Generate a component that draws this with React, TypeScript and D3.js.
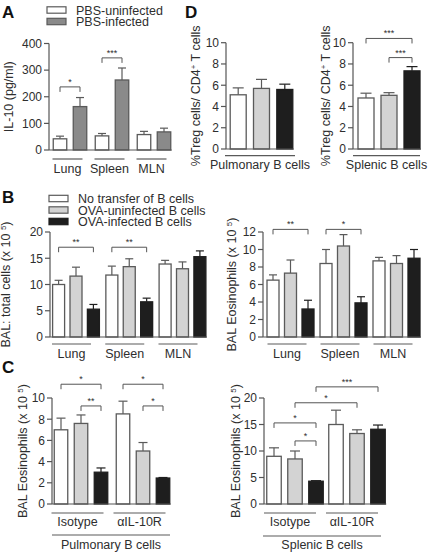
import React from "react";
import * as d3 from "d3";

// ---------------- DATA ----------------
// Panel A
const aGroups = ["Lung", "Spleen", "MLN"];
const aSeries = ["PBS-uninfected", "PBS-infected"];
const aMeans = [[42, 163], [53, 263], [58, 68]];
const aErrTop = [[52, 197], [62, 308], [70, 82]];
const aTicks = [0, 100, 200, 300, 400];
const aBrackets = [
  { g1: 0, s1: 0, g2: 0, s2: 1, v: 237, label: "*" },
  { g1: 1, s1: 0, g2: 1, s2: 1, v: 346, label: "***" },
];

// Panel B
const bGroups = ["Lung", "Spleen", "MLN"];
const bSeries = ["No transfer of B cells", "OVA-uninfected B cells", "OVA-infected B cells"];
const bTotalMeans = [[10.0, 11.6, 5.3], [11.8, 13.4, 6.7], [13.9, 13.0, 15.3]];
const bTotalErrTop = [[10.8, 13.3, 6.2], [13.5, 14.9, 7.4], [14.6, 14.3, 16.4]];
const bTotalTicks = [0, 5, 10, 15, 20];
const bTotalBrackets = [
  { g1: 0, s1: 0, g2: 0, s2: 2, v: 17.1, label: "**" },
  { g1: 1, s1: 0, g2: 1, s2: 2, v: 17.1, label: "**" },
];
const bEosMeans = [[6.5, 7.3, 3.2], [8.4, 10.4, 3.9], [8.7, 8.4, 9.0]];
const bEosErrTop = [[7.1, 8.8, 4.2], [10.0, 11.7, 4.6], [9.1, 9.3, 10.0]];
const bEosTicks = [0, 2, 4, 6, 8, 10, 12];
const bEosBrackets = [
  { g1: 0, s1: 0, g2: 0, s2: 2, v: 12.3, label: "**" },
  { g1: 1, s1: 0, g2: 1, s2: 2, v: 12.3, label: "*" },
];

// Panel C
const cGroups = ["Isotype", "\u03b1IL-10R"];
const cPulmMeans = [[7.0, 7.6, 3.0], [8.5, 5.0, 2.45]];
const cPulmErrTop = [[8.1, 8.4, 3.4], [9.7, 5.8, 2.5]];
const cPulmTicks = [0, 2, 4, 6, 8, 10];
const cPulmBrackets = [
  { g1: 0, s1: 0, g2: 0, s2: 2, v: 11.3, label: "*" },
  { g1: 0, s1: 1, g2: 0, s2: 2, v: 9.25, label: "**" },
  { g1: 1, s1: 0, g2: 1, s2: 2, v: 11.3, label: "*" },
  { g1: 1, s1: 1, g2: 1, s2: 2, v: 9.25, label: "*" },
];
const cSplMeans = [[9.0, 8.5, 4.3], [15.0, 13.3, 14.1]];
const cSplErrTop = [[10.6, 10.0, 4.4], [17.7, 14.0, 14.9]];
const cSplTicks = [0, 5, 10, 15, 20];
const cSplBrackets = [
  { g1: 0, s1: 2, g2: 1, s2: 2, v: 22.1, label: "***" },
  { g1: 0, s1: 1, g2: 1, s2: 1, v: 19.1, label: "*" },
  { g1: 0, s1: 0, g2: 0, s2: 2, v: 15.3, label: "*" },
  { g1: 0, s1: 1, g2: 0, s2: 2, v: 11.9, label: "*" },
];

// Panel D
const dPulmGroups = ["Pulmonary B cells"];
const dSplGroups = ["Splenic B cells"];
const dPulmMeans = [[5.1, 5.7, 5.6]];
const dPulmErrTop = [[5.75, 6.55, 6.1]];
const dSplMeans = [[4.8, 5.05, 7.35]];
const dSplErrTop = [[5.25, 5.3, 7.75]];
const dTicks = [0, 2, 4, 6, 8, 10];
const dSplBrackets = [
  { g1: 0, s1: 0, g2: 0, s2: 2, v: 10.4, label: "***" },
  { g1: 0, s1: 1, g2: 0, s2: 2, v: 8.6, label: "***" },
];

// ---------------- STYLE ----------------
const FONT = "'Liberation Sans', Arial, Helvetica, sans-serif";
const TEXT = "#2e2e2e";
const AXIS = "#555";
const OUTLINE = "#5a5a5a";
const WHITE = "#ffffff";
const MIDGRAY = "#8a8a8a";
const LIGHTGRAY = "#d3d3d3";
const BLACK = "#1e1e1e";
const threeFills = [WHITE, LIGHTGRAY, BLACK];
const twoFills = [WHITE, MIDGRAY];
const LABEL_FS = 12.5;

type Bracket = { g1: number; s1: number; g2: number; s2: number; v: number; label: string };

type PanelCfg = {
  axisX: number;
  y0: number;
  yTop: number;
  max: number;
  ticks: number[];
  groups: string[];
  means: number[][];
  errTop: number[][];
  fills: string[];
  centers: [number, number];
  step: number;
  bw: number;
  brackets: Bracket[];
  ulHalf: number;
  ulShift: number;
  ulY: number;
  labelY: number;
  capHalf: number;
  yLabel: React.ReactNode;
  yLabelX: number;
  outer?: { text: string; x1: number; x2: number; y: number; labelY: number };
};

function BarPanel({ cfg }: { cfg: PanelCfg }) {
  const y = d3.scaleLinear().domain([0, cfg.max]).range([cfg.y0, cfg.yTop]);
  const gx = d3.scalePoint<string>().domain(cfg.groups).range(cfg.centers);
  const n = cfg.means[0].length;
  const pad = 1 - cfg.bw / cfg.step;
  const inner = d3
    .scaleBand<number>()
    .domain(d3.range(n))
    .range([(-n * cfg.step) / 2, (n * cfg.step) / 2])
    .paddingInner(pad)
    .paddingOuter(pad / 2);
  const bw = inner.bandwidth();
  const barLeft = (gi: number, si: number) => (gx(cfg.groups[gi]) as number) + (inner(si) as number);
  const barCenter = (gi: number, si: number) => barLeft(gi, si) + bw / 2;
  const lastRight = barLeft(cfg.groups.length - 1, n - 1) + bw;
  const yMid = (cfg.y0 + cfg.yTop) / 2;

  return (
    <g fontFamily={FONT} fill={TEXT}>
      {cfg.means.map((row, gi) =>
        row.map((v, si) => {
          const x = barLeft(gi, si);
          const cx = barCenter(gi, si);
          const top = y(v);
          const et = y(cfg.errTop[gi][si]);
          const dark = cfg.fills[si] === BLACK;
          return (
            <g key={`${gi}-${si}`}>
              <line x1={cx} x2={cx} y1={top} y2={et} stroke={dark ? BLACK : OUTLINE} strokeWidth={1.2} />
              <line x1={cx - cfg.capHalf} x2={cx + cfg.capHalf} y1={et} y2={et} stroke={dark ? BLACK : OUTLINE} strokeWidth={1.2} />
              <rect
                x={x}
                y={top}
                width={bw}
                height={cfg.y0 - top}
                fill={cfg.fills[si]}
                stroke={dark ? BLACK : OUTLINE}
                strokeWidth={1.3}
              />
            </g>
          );
        })
      )}
      <line x1={cfg.axisX} x2={cfg.axisX} y1={cfg.y0} y2={y(cfg.max)} stroke={AXIS} strokeWidth={1.2} />
      <line x1={cfg.axisX} x2={lastRight + 1} y1={cfg.y0} y2={cfg.y0} stroke={AXIS} strokeWidth={1.2} />
      {cfg.ticks.map((t) => (
        <g key={t}>
          <line x1={cfg.axisX - 5} x2={cfg.axisX} y1={y(t)} y2={y(t)} stroke={AXIS} strokeWidth={1.2} />
          <text x={cfg.axisX - 7} y={y(t)} dy="0.36em" textAnchor="end" fontSize={12}>
            {t}
          </text>
        </g>
      ))}
      <text
        transform={`translate(${cfg.yLabelX},${yMid}) rotate(-90)`}
        textAnchor="middle"
        fontSize={LABEL_FS}
      >
        {cfg.yLabel}
      </text>
      {cfg.brackets.map((b, i) => {
        const x1 = barCenter(b.g1, b.s1);
        const x2 = barCenter(b.g2, b.s2);
        const yy = y(b.v);
        return (
          <g key={i}>
            <path
              d={`M${x1},${yy + 5}V${yy}H${x2}V${yy + 5}`}
              fill="none"
              stroke={AXIS}
              strokeWidth={1}
            />
            <text x={(x1 + x2) / 2} y={yy - 2} textAnchor="middle" fontSize={9}>
              {b.label}
            </text>
          </g>
        );
      })}
      {cfg.groups.map((g) => {
        const c = (gx(g) as number) + cfg.ulShift;
        return (
          <g key={g}>
            <line x1={c - cfg.ulHalf} x2={c + cfg.ulHalf} y1={cfg.ulY} y2={cfg.ulY} stroke={OUTLINE} strokeWidth={1.2} />
            <text x={c} y={cfg.labelY} textAnchor="middle" fontSize={LABEL_FS}>
              {g}
            </text>
          </g>
        );
      })}
      {cfg.outer && (
        <g>
          <line x1={cfg.outer.x1} x2={cfg.outer.x2} y1={cfg.outer.y} y2={cfg.outer.y} stroke={OUTLINE} strokeWidth={1.2} />
          <text x={(cfg.outer.x1 + cfg.outer.x2) / 2} y={cfg.outer.labelY} textAnchor="middle" fontSize={LABEL_FS}>
            {cfg.outer.text}
          </text>
        </g>
      )}
    </g>
  );
}

function Legend({ x, y0, dy, labels, fills }: { x: number; y0: number; dy: number; labels: string[]; fills: string[] }) {
  return (
    <g fontFamily={FONT} fill={TEXT}>
      {labels.map((l, i) => {
        const cy = y0 + i * dy;
        const dark = fills[i] === BLACK;
        return (
          <g key={l}>
            <rect x={x} y={cy - 3.2} width={19} height={6.4} fill={fills[i]} stroke={dark ? BLACK : OUTLINE} strokeWidth={1.2} />
            <text x={x + 29} y={cy} dy="0.36em" fontSize={LABEL_FS}>
              {l}
            </text>
          </g>
        );
      })}
    </g>
  );
}

const sup = (s: string) => (
  <tspan baselineShift="super" fontSize={8}>
    {s}
  </tspan>
);

export default function App() {
  const eosLabel = (
    <>
      BAL Eosinophils (x 10 {sup("5")}
      <tspan>)</tspan>
    </>
  );
  const tregLabel = (
    <>
      %Treg cells/ CD4{sup("+")}
      <tspan> T cells</tspan>
    </>
  );

  const panelA: PanelCfg = {
    axisX: 49, y0: 150, yTop: 43.5, max: 400, ticks: aTicks,
    groups: aGroups, means: aMeans, errTop: aErrTop, fills: twoFills,
    centers: [70, 154], step: 20, bw: 13.5, brackets: aBrackets,
    ulHalf: 15, ulShift: -2.5, ulY: 159, labelY: 173, capHalf: 4,
    yLabel: "IL-10 (pg/ml)", yLabelX: 13,
  };
  const panelB1: PanelCfg = {
    axisX: 50, y0: 337, yTop: 232, max: 20, ticks: bTotalTicks,
    groups: bGroups, means: bTotalMeans, errTop: bTotalErrTop, fills: threeFills,
    centers: [76, 182.5], step: 17.4, bw: 12, brackets: bTotalBrackets,
    ulHalf: 19.5, ulShift: -4.5, ulY: 344, labelY: 358, capHalf: 4,
    yLabel: (
      <>
        BAL: total cells (x 10 {sup("5")}
        <tspan>)</tspan>
      </>
    ),
    yLabelX: 10,
  };
  const panelB2: PanelCfg = {
    axisX: 263, y0: 337, yTop: 232, max: 12, ticks: bEosTicks,
    groups: bGroups, means: bEosMeans, errTop: bEosErrTop, fills: threeFills,
    centers: [290.5, 396.5], step: 17.5, bw: 12, brackets: bEosBrackets,
    ulHalf: 19.5, ulShift: -3.5, ulY: 344, labelY: 358, capHalf: 4,
    yLabel: eosLabel, yLabelX: 236,
  };
  const panelC1: PanelCfg = {
    axisX: 52, y0: 504, yTop: 398, max: 10, ticks: cPulmTicks,
    groups: cGroups, means: cPulmMeans, errTop: cPulmErrTop, fills: threeFills,
    centers: [81, 143], step: 20, bw: 13.5, brackets: cPulmBrackets,
    ulHalf: 26, ulShift: -3.5, ulY: 513, labelY: 526, capHalf: 4.5,
    yLabel: eosLabel, yLabelX: 27,
    outer: { text: "Pulmonary B cells", x1: 52, x2: 170, y: 535, labelY: 549 },
  };
  const panelC2: PanelCfg = {
    axisX: 264, y0: 504, yTop: 398, max: 20, ticks: cSplTicks,
    groups: cGroups, means: cSplMeans, errTop: cSplErrTop, fills: threeFills,
    centers: [295, 357], step: 21, bw: 14.5, brackets: cSplBrackets,
    ulHalf: 26, ulShift: -5, ulY: 513, labelY: 526, capHalf: 5,
    yLabel: eosLabel, yLabelX: 240,
    outer: { text: "Splenic B cells", x1: 263, x2: 381, y: 536, labelY: 549 },
  };
  const panelD1: PanelCfg = {
    axisX: 226, y0: 149, yTop: 42.7, max: 10, ticks: dTicks,
    groups: dPulmGroups, means: dPulmMeans, errTop: dPulmErrTop, fills: threeFills,
    centers: [261.5, 261.5], step: 23.3, bw: 16, brackets: [],
    ulHalf: 35, ulShift: -1.5, ulY: 155.7, labelY: 169, capHalf: 5.5,
    yLabel: tregLabel, yLabelX: 200,
  };
  const panelD2: PanelCfg = {
    axisX: 353, y0: 149, yTop: 42.7, max: 10, ticks: dTicks,
    groups: dSplGroups, means: dSplMeans, errTop: dSplErrTop, fills: threeFills,
    centers: [389, 389], step: 23, bw: 16, brackets: dSplBrackets,
    ulHalf: 33.5, ulShift: -2.5, ulY: 155.7, labelY: 169, capHalf: 5.5,
    yLabel: tregLabel, yLabelX: 330,
  };

  return (
    <svg
      width={430}
      height={554}
      viewBox="0 0 430 554"
      style={{ position: "absolute", left: 0, top: 0, background: "#fff" }}
    >
      <rect width={430} height={554} fill="#fff" />
      <g fontFamily={FONT} fontWeight="bold" fontSize={17} fill="#111">
        <text x={2} y={18}>A</text>
        <text x={185} y={18}>D</text>
        <text x={2} y={203}>B</text>
        <text x={2} y={373}>C</text>
      </g>
      <Legend x={47} y0={10} dy={11.5} labels={aSeries} fills={twoFills} />
      <Legend x={49} y0={198.5} dy={11.5} labels={bSeries} fills={threeFills} />
      <BarPanel cfg={panelA} />
      <BarPanel cfg={panelD1} />
      <BarPanel cfg={panelD2} />
      <BarPanel cfg={panelB1} />
      <BarPanel cfg={panelB2} />
      <BarPanel cfg={panelC1} />
      <BarPanel cfg={panelC2} />
    </svg>
  );
}
